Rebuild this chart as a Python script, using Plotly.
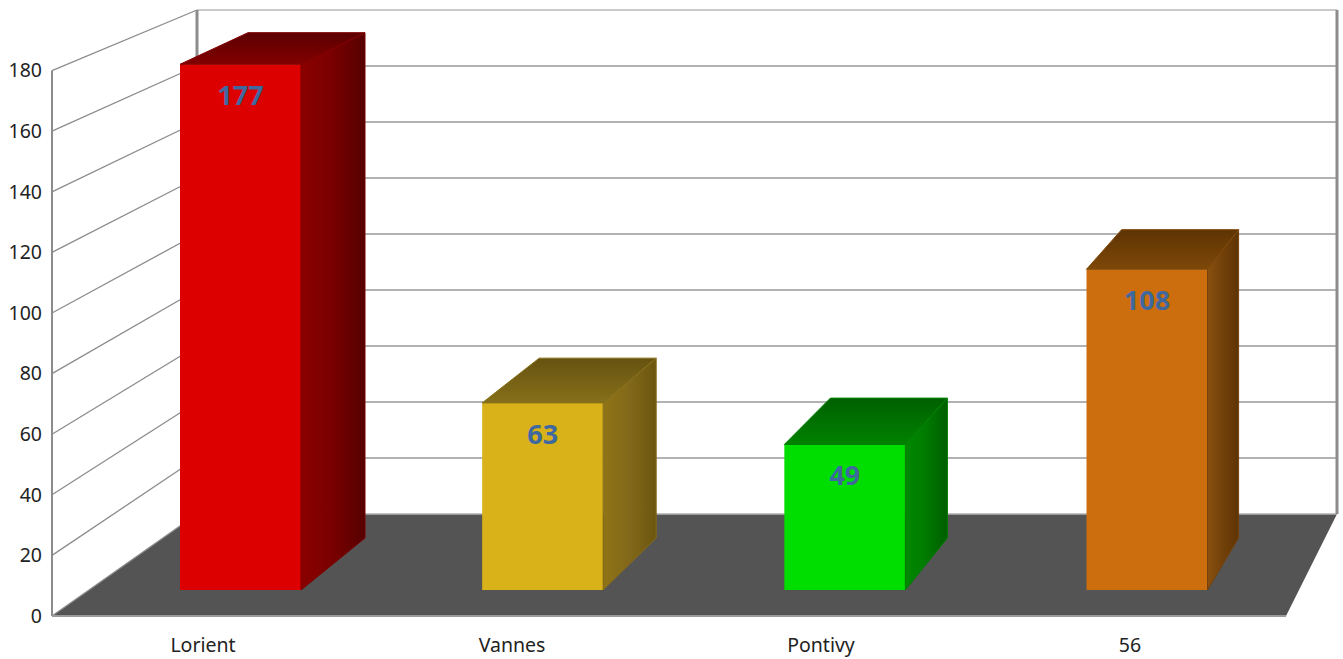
import plotly.graph_objects as go

# ---- data ----
categories = ["Lorient", "Vannes", "Pontivy", "56"]
values = [177, 63, 49, 108]
value_ticks = [0, 20, 40, 60, 80, 100, 120, 140, 160, 180]

# ---- styles ----
front_colors = ["#DC0000", "#D9B21A", "#00DE00", "#CC6E0E"]
side_scales = [
    ["#8A0000", "#7C0000", "#560000"],
    ["#8F7416", "#84691A", "#6B560F"],
    ["#008800", "#007C00", "#005E00"],
    ["#8A5010", "#74420A", "#5E3404"],
]
top_scales = [
    ["#820000", "#5C0000"],
    ["#86701A", "#665210"],
    ["#008200", "#006000"],
    ["#7E4808", "#5E3404"],
]
LABEL_COLOR = "#3F689F"
TEXT_COLOR = "#222222"
FLOOR_COLOR = "#545454"
GRID_COLOR = "#B2B2B2"
WALL_COLOR = "#8C8C8C"
FONT = "Noto Sans"

W, H = 1343, 659

# ---- calibration of the perspective projection (page pixels) ----
FRONT_BASE, FRONT_K = 590, 2.97      # bar front plane
BACK_BASE, BACK_K = 538, 2.855       # bar rear plane
WALL_BASE, WALL_K = 514, 2.8         # back wall
AXIS_BASE, AXIS_K = 616, 3.03        # left value axis
FRONT_X0, FRONT_DX, FRONT_HALF = 240.5, 302.17, 60.5
BACK_X0, BACK_DX, BACK_HALF = 306.5, 291.2, 58.5
LABEL_X0, LABEL_DX = 203, 309
LEFT_X, WALL_LEFT, WALL_RIGHT, FLOOR_RIGHT = 52, 197, 1337, 1286


def ax_x(px):
    return (px - FRONT_X0) / FRONT_DX


def ax_y(py):
    return (FRONT_BASE - py) / FRONT_K


def back_x(i, sign):
    return ax_x(BACK_X0 + BACK_DX * i + sign * BACK_HALF)


def back_y(v):
    return ax_y(BACK_BASE - BACK_K * v)


def wall_y(v):
    return ax_y(WALL_BASE - WALL_K * v)


def axis_y(v):
    return ax_y(AXIS_BASE - AXIS_K * v)


half = FRONT_HALF / FRONT_DX
fig = go.Figure()


def line(xs, ys, color, width):
    fig.add_trace(go.Scatter(x=xs, y=ys, mode="lines", hoverinfo="skip", showlegend=False,
                             line=dict(color=color, width=width)))


# floor
fig.add_trace(go.Scatter(
    x=[ax_x(LEFT_X), ax_x(FLOOR_RIGHT), ax_x(WALL_RIGHT), ax_x(WALL_LEFT), ax_x(LEFT_X)],
    y=[axis_y(0), axis_y(0), wall_y(0), wall_y(0), axis_y(0)],
    mode="none", fill="toself", fillcolor=FLOOR_COLOR, hoverinfo="skip", showlegend=False))

# back-wall and side-wall grid lines
for v in value_ticks:
    if v not in (0, value_ticks[-1]):
        line([ax_x(WALL_LEFT), ax_x(WALL_RIGHT)], [wall_y(v), wall_y(v)], GRID_COLOR, 2)
    line([ax_x(LEFT_X), ax_x(WALL_LEFT)], [axis_y(v), wall_y(v)], WALL_COLOR, 1.3)

top = value_ticks[-1]
line([ax_x(WALL_LEFT), ax_x(WALL_RIGHT)], [wall_y(top), wall_y(top)], "#B8B8B8", 1.5)
line([ax_x(WALL_LEFT), ax_x(WALL_RIGHT)], [wall_y(0), wall_y(0)], "#B0B0B0", 1.5)
line([ax_x(WALL_LEFT), ax_x(WALL_LEFT)], [wall_y(0), wall_y(top)], WALL_COLOR, 3)
line([ax_x(WALL_RIGHT), ax_x(WALL_RIGHT)], [wall_y(0), wall_y(top)], WALL_COLOR, 3)
line([ax_x(LEFT_X), ax_x(LEFT_X)], [axis_y(0), axis_y(top)], WALL_COLOR, 2)
line([ax_x(LEFT_X), ax_x(FLOOR_RIGHT)], [axis_y(0), axis_y(0)], "#9A9A9A", 2)

# axes carrying the tick labels
fig.add_trace(go.Scatter(x=list(range(len(categories))), y=[0] * len(categories),
                         xaxis="x2", yaxis="y2", mode="markers",
                         marker=dict(opacity=0), hoverinfo="skip", showlegend=False))

# bars: front faces
fig.add_trace(go.Bar(x=list(range(len(values))), y=values, width=2 * half,
                     marker=dict(color=front_colors, line=dict(width=0)),
                     xaxis="x3", yaxis="y3", hoverinfo="skip", showlegend=False))

# bars: side and top faces
for i, v in enumerate(values):
    fig.add_trace(go.Scatter(
        x=[i + half, back_x(i, 1), back_x(i, 1), i + half, i + half],
        y=[0, back_y(0), back_y(v), v, 0],
        mode="lines", line=dict(width=1, color=side_scales[i][1]), fill="toself", xaxis="x3", yaxis="y3",
        fillgradient=dict(type="horizontal",
                          colorscale=[[0, side_scales[i][0]], [0.45, side_scales[i][1]], [1, side_scales[i][2]]]),
        hoverinfo="skip", showlegend=False))
    fig.add_trace(go.Scatter(
        x=[i - half, back_x(i, -1), back_x(i, 1), i + half, i - half],
        y=[v, back_y(v), back_y(v), v, v],
        mode="lines", line=dict(width=1, color=top_scales[i][0]), fill="toself", xaxis="x3", yaxis="y3",
        fillgradient=dict(type="vertical",
                          colorscale=[[0, top_scales[i][0]], [1, top_scales[i][1]]]),
        hoverinfo="skip", showlegend=False))

# value labels
fig.add_trace(go.Scatter(
    x=list(range(len(values))), y=[v - 34 / FRONT_K for v in values],
    text=[str(v) for v in values], mode="text", textposition="middle center",
    textfont=dict(family=FONT, size=27, color=LABEL_COLOR, weight="bold"),
    xaxis="x3", yaxis="y3", hoverinfo="skip", showlegend=False))

main_x = [ax_x(0), ax_x(W)]
main_y = [ax_y(H), ax_y(0)]
fig.update_layout(
    width=W, height=H, margin=dict(l=0, r=0, t=0, b=0),
    paper_bgcolor="white", plot_bgcolor="white", showlegend=False,
    font=dict(family=FONT, color=TEXT_COLOR),
    xaxis=dict(range=main_x, visible=False, domain=[0, 1], fixedrange=True),
    yaxis=dict(range=main_y, visible=False, domain=[0, 1], fixedrange=True),
    xaxis3=dict(range=main_x, visible=False, overlaying="x", fixedrange=True),
    yaxis3=dict(range=main_y, visible=False, overlaying="y", fixedrange=True),
    xaxis2=dict(
        overlaying="x", anchor="free", position=(H - AXIS_BASE) / H, side="bottom",
        range=[(0 - LABEL_X0) / LABEL_DX, (W - LABEL_X0) / LABEL_DX],
        tickmode="array", tickvals=list(range(len(categories))), ticktext=categories,
        showgrid=False, zeroline=False, showline=False, ticks="", ticklabelstandoff=15,
        tickfont=dict(family=FONT, size=19.5, color=TEXT_COLOR), fixedrange=True),
    yaxis2=dict(
        overlaying="y", anchor="free", position=(LEFT_X - 1) / W, side="left",
        range=[(AXIS_BASE - H) / AXIS_K, AXIS_BASE / AXIS_K],
        tickmode="array", tickvals=value_ticks,
        showgrid=False, zeroline=False, showline=False, ticks="", ticklabelstandoff=9,
        tickfont=dict(family=FONT, size=19.5, color=TEXT_COLOR), fixedrange=True),
)

fig.write_html("out.html", config={"displayModeBar": False},
               post_script="document.body.style.margin='0';document.body.style.overflow='hidden';")
